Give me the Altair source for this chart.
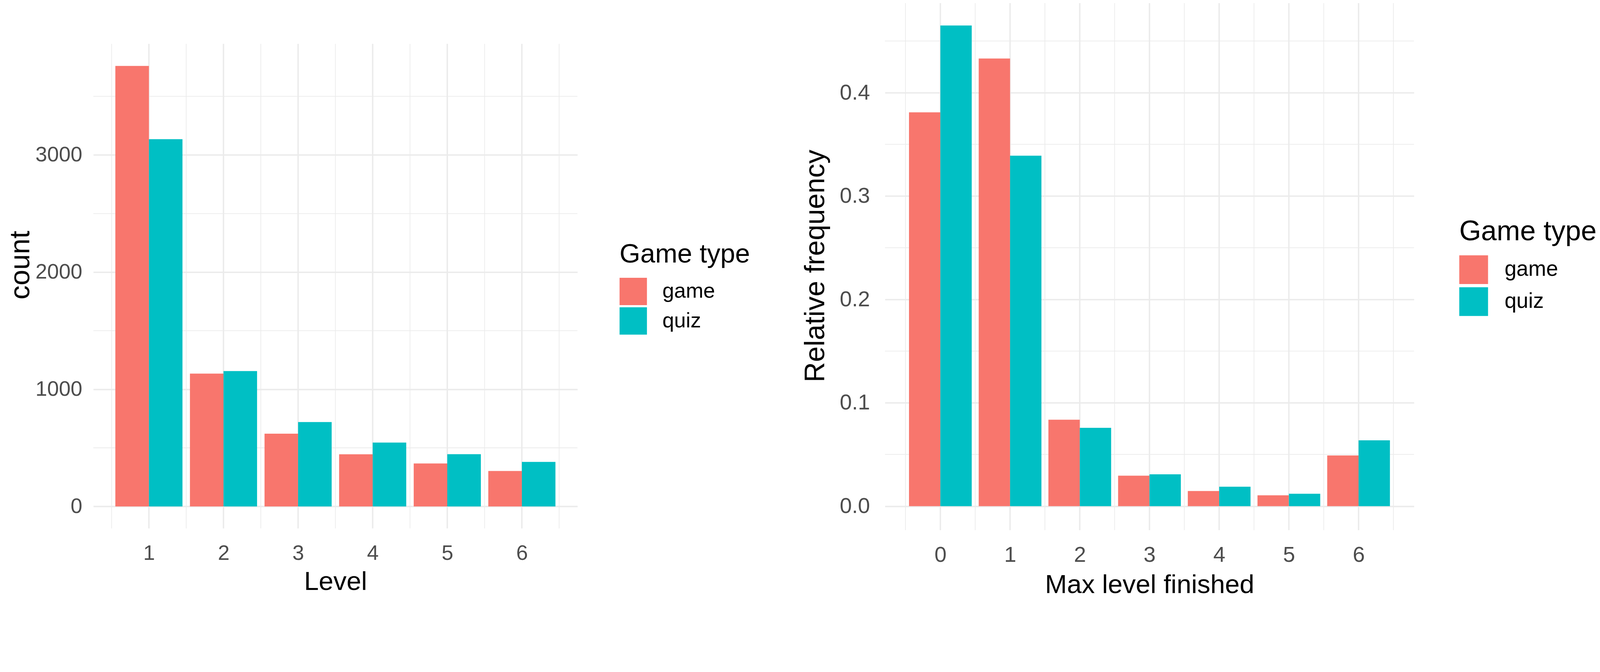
import altair as alt
import pandas as pd

# ---------------- data ----------------
types = ["game", "quiz"]
type_colors = ["#F8766D", "#00BFC4"]

levels = [1, 2, 3, 4, 5, 6]
count_game = [3760, 1134, 621, 445, 367, 302]
count_quiz = [3135, 1155, 720, 545, 446, 380]
count_ticks = [0, 1000, 2000, 3000]

max_levels = [0, 1, 2, 3, 4, 5, 6]
freq_game = [0.381, 0.433, 0.0836, 0.0295, 0.0147, 0.0105, 0.049]
freq_quiz = [0.465, 0.339, 0.0758, 0.0308, 0.0188, 0.012, 0.0637]
freq_ticks = [0.0, 0.1, 0.2, 0.3, 0.4]

FONT = "Liberation Sans"
GRID = "#EBEBEB"
TICK_COL = "#4D4D4D"


def panel(lv, game, quiz, ticks, yfmt, xtitle, ytitle, w, h, top_gap, sty):
    n = len(lv)
    df = pd.DataFrame({
        "level": lv * 2,
        "type": [types[0]] * n + [types[1]] * n,
        "value": game + quiz,
    })
    lo, hi = min(lv) - 0.45, max(lv) + 0.45
    ex = 0.05 * (hi - lo)
    xdom = [lo - ex, hi + ex]
    vmax = max(game + quiz)
    ydom = [-0.05 * vmax, 1.05 * vmax]
    # blank strip above the plotting panel (empty space in the reference)
    ytop = ydom[1] + (ydom[1] - ydom[0]) * top_gap / h
    minor_x = [v + 0.5 for v in [min(lv) - 1] + lv]
    step = ticks[1] - ticks[0]
    minor_y = [t + step / 2 for t in ticks]

    xscale = alt.Scale(domain=xdom, nice=False, zero=False)
    yscale = alt.Scale(domain=[ydom[0], ytop], nice=False, zero=False)
    xaxis = alt.Axis(values=lv, format="d", grid=False,
                     ticks=False, tickSize=0, domain=False,
                     labelFontSize=sty["tick"], labelColor=TICK_COL, labelPadding=sty["xlp"],
                     labelFont=FONT, titleFont=FONT,
                     titleFontSize=sty["xt"], titleFontWeight="normal", titleColor="black",
                     titlePadding=sty["xtp"])
    yaxis = alt.Axis(values=ticks, format=yfmt, grid=True, gridColor=GRID, gridWidth=4,
                     ticks=False, tickSize=0, domain=False,
                     labelFontSize=sty["tick"], labelColor=TICK_COL, labelPadding=sty["ylp"],
                     labelFont=FONT, titleFont=FONT,
                     titleFontSize=sty["yt"], titleFontWeight="normal", titleColor="black",
                     titlePadding=sty["ytp"])

    def vgrid(vals, width):
        return alt.Chart(pd.DataFrame({"gx": vals})).mark_rule(
            color=GRID, strokeWidth=width).encode(
            x=alt.X("gx:Q", scale=xscale, axis=xaxis, title=xtitle),
            y=alt.YDatum(ydom[0], scale=yscale, axis=yaxis, title=ytitle),
            y2=alt.Y2Datum(ydom[1]),
        )

    rx_minor = vgrid(minor_x, 2)
    rx_major = vgrid(lv, 4)
    ry = alt.Chart(pd.DataFrame({"my": minor_y})).mark_rule(color=GRID, strokeWidth=2).encode(
        y=alt.Y("my:Q", scale=yscale, axis=yaxis, title=ytitle))

    legend = alt.Legend(title="Game type", orient="none",
                        legendX=sty["lx"], legendY=sty["ly"], padding=0,
                        titleFont=FONT, labelFont=FONT,
                        titleFontSize=sty["lt"], titleFontWeight="normal", titleColor="black",
                        titlePadding=sty["ltp"], titleLimit=2000, labelLimit=2000,
                        labelFontSize=sty["ll"], labelColor="black", labelOffset=sty["lo"],
                        symbolType="square", symbolSize=sty["ss"], symbolStrokeWidth=0,
                        symbolOpacity=1, rowPadding=sty["rp"])

    bars = alt.Chart(df).transform_calculate(
        x0="datum.type == 'game' ? datum.level - 0.45 : datum.level",
        x1="datum.type == 'game' ? datum.level : datum.level + 0.45",
    ).mark_bar(cornerRadius=0, strokeWidth=0).encode(
        x=alt.X("x0:Q", scale=xscale, axis=xaxis, title=xtitle),
        x2="x1:Q",
        y=alt.Y("value:Q", scale=yscale, axis=yaxis, title=ytitle),
        y2=alt.datum(0),
        color=alt.Color("type:N", scale=alt.Scale(domain=types, range=type_colors),
                        legend=legend),
    )
    return alt.layer(rx_minor, rx_major, ry, bars).properties(width=w, height=h + top_gap)


left_sty = dict(tick=60, xlp=42, xt=75, xtp=15, ylp=32, yt=80, ytp=0,
                lx=1499, ly=684, lt=76, ltp=27, ll=60, lo=44, ss=6084, rp=6)
right_sty = dict(tick=62, xlp=41, xt=75, xtp=18, ylp=43, yt=80, ytp=27,
                 lx=1636, ly=617, lt=80, ltp=26, ll=61, lo=47, ss=6724, rp=9)

left = panel(levels, count_game, count_quiz, count_ticks, "d",
             "Level", "count", 1379, 1380, 121, left_sty)
right = panel(max_levels, freq_game, freq_quiz, freq_ticks, ".1f",
              "Max level finished", "Relative frequency", 1507, 1506, 0, right_sty)

chart = alt.hconcat(left, right, spacing=146).resolve_scale(
    color="independent"
).properties(
    padding={"left": 10, "top": -97, "right": 0, "bottom": -6},
    background="white",
).configure(font=FONT).configure_view(stroke="transparent", strokeWidth=0)

chart.save("out.html", embed_options={"renderer": "svg", "actions": False})
